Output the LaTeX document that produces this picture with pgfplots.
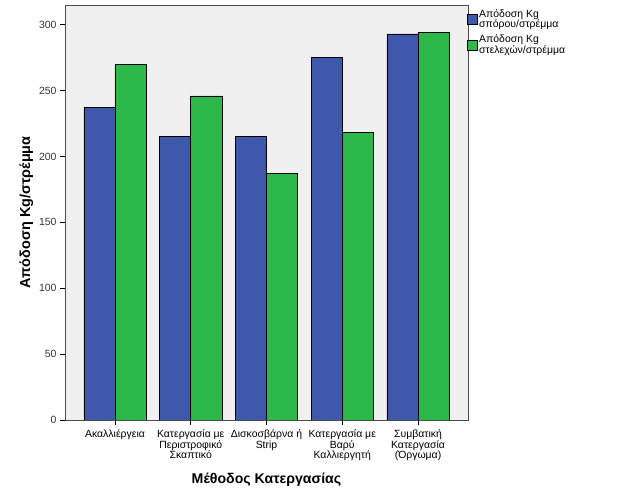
\documentclass[border=0pt]{standalone}
\usepackage{fontspec}
\setmainfont{Liberation Sans}
\usepackage{pgfplots}
\pgfplotsset{compat=1.18}
\usetikzlibrary{calc}
\definecolor{spssblue}{HTML}{3E58AC}
\definecolor{spssgreen}{HTML}{2DB84A}
\definecolor{plotbg}{HTML}{F0F0F0}

\begin{document}
\begin{tikzpicture}[x=1bp,y=1bp]
\begin{axis}[
    scale only axis,
    width=403bp, height=415bp,
    ybar=0pt,
    bar width=0.41,
    xmin=-0.66, xmax=4.66,
    ymin=0, ymax=315,
    xtick={0,1,2,3,4},
    xticklabels={Ακαλλιέργεια,
      Κατεργασία με\\Περιστροφικό\\Σκαπτικό,
      Δισκοσβάρνα ή\\Strip,
      Κατεργασία με\\Βαρύ\\Καλλιεργητή,
      Συμβατική\\Κατεργασία\\(Όργωμα)},
    xticklabel style={align=center, font=\fontsize{10.5}{10.7}\selectfont, yshift=-1bp},
    ytick={0,50,...,300},
    yticklabel style={font=\fontsize{10.5}{12}\selectfont, text=black!80},
    /pgf/number format/assume math mode=true,
    tick align=outside, tick pos=left,
    major tick length=5bp,
    tick style={black, line width=0.6pt},
    axis background/.style={fill=plotbg},
    axis line style={black!70, line width=0.8pt},
    ylabel={\bfseries Απόδοση Kg/στρέμμα},
    ylabel style={font=\fontsize{14.5}{16}\selectfont, yshift=-1bp},
    xlabel={\bfseries Μέθοδος Κατεργασίας},
    xlabel style={font=\fontsize{14.2}{16}\selectfont, yshift=-5bp},
    legend style={at={(1,1)}, anchor=north west, draw=none, fill=none,
      font=\fontsize{10.5}{10.8}\selectfont, row sep=1.5bp,
      inner xsep=0bp, inner ysep=2bp, xshift=-1.5bp,
      cells={align=left}},
    legend cell align=left,
    legend image code/.code={\draw[#1, draw=black, line width=0.5pt] (0bp,-5bp) rectangle (10bp,5bp);},
  ]
\addplot[fill=spssblue, draw=black, line width=0.6pt] coordinates {(0,237) (1,215) (2,215) (3,275) (4,293)};
\addplot[fill=spssgreen, draw=black, line width=0.6pt] coordinates {(0,270) (1,246) (2,187) (3,218) (4,294)};
\legend{Απόδοση Kg\\σπόρου/στρέμμα, Απόδοση Kg\\στελεχών/στρέμμα}
\coordinate (sw) at (rel axis cs:0,0);
\end{axis}
\path ($(sw)+(-65,-81)$) rectangle ($(sw)+(561,420)$);
\end{tikzpicture}
\end{document}
